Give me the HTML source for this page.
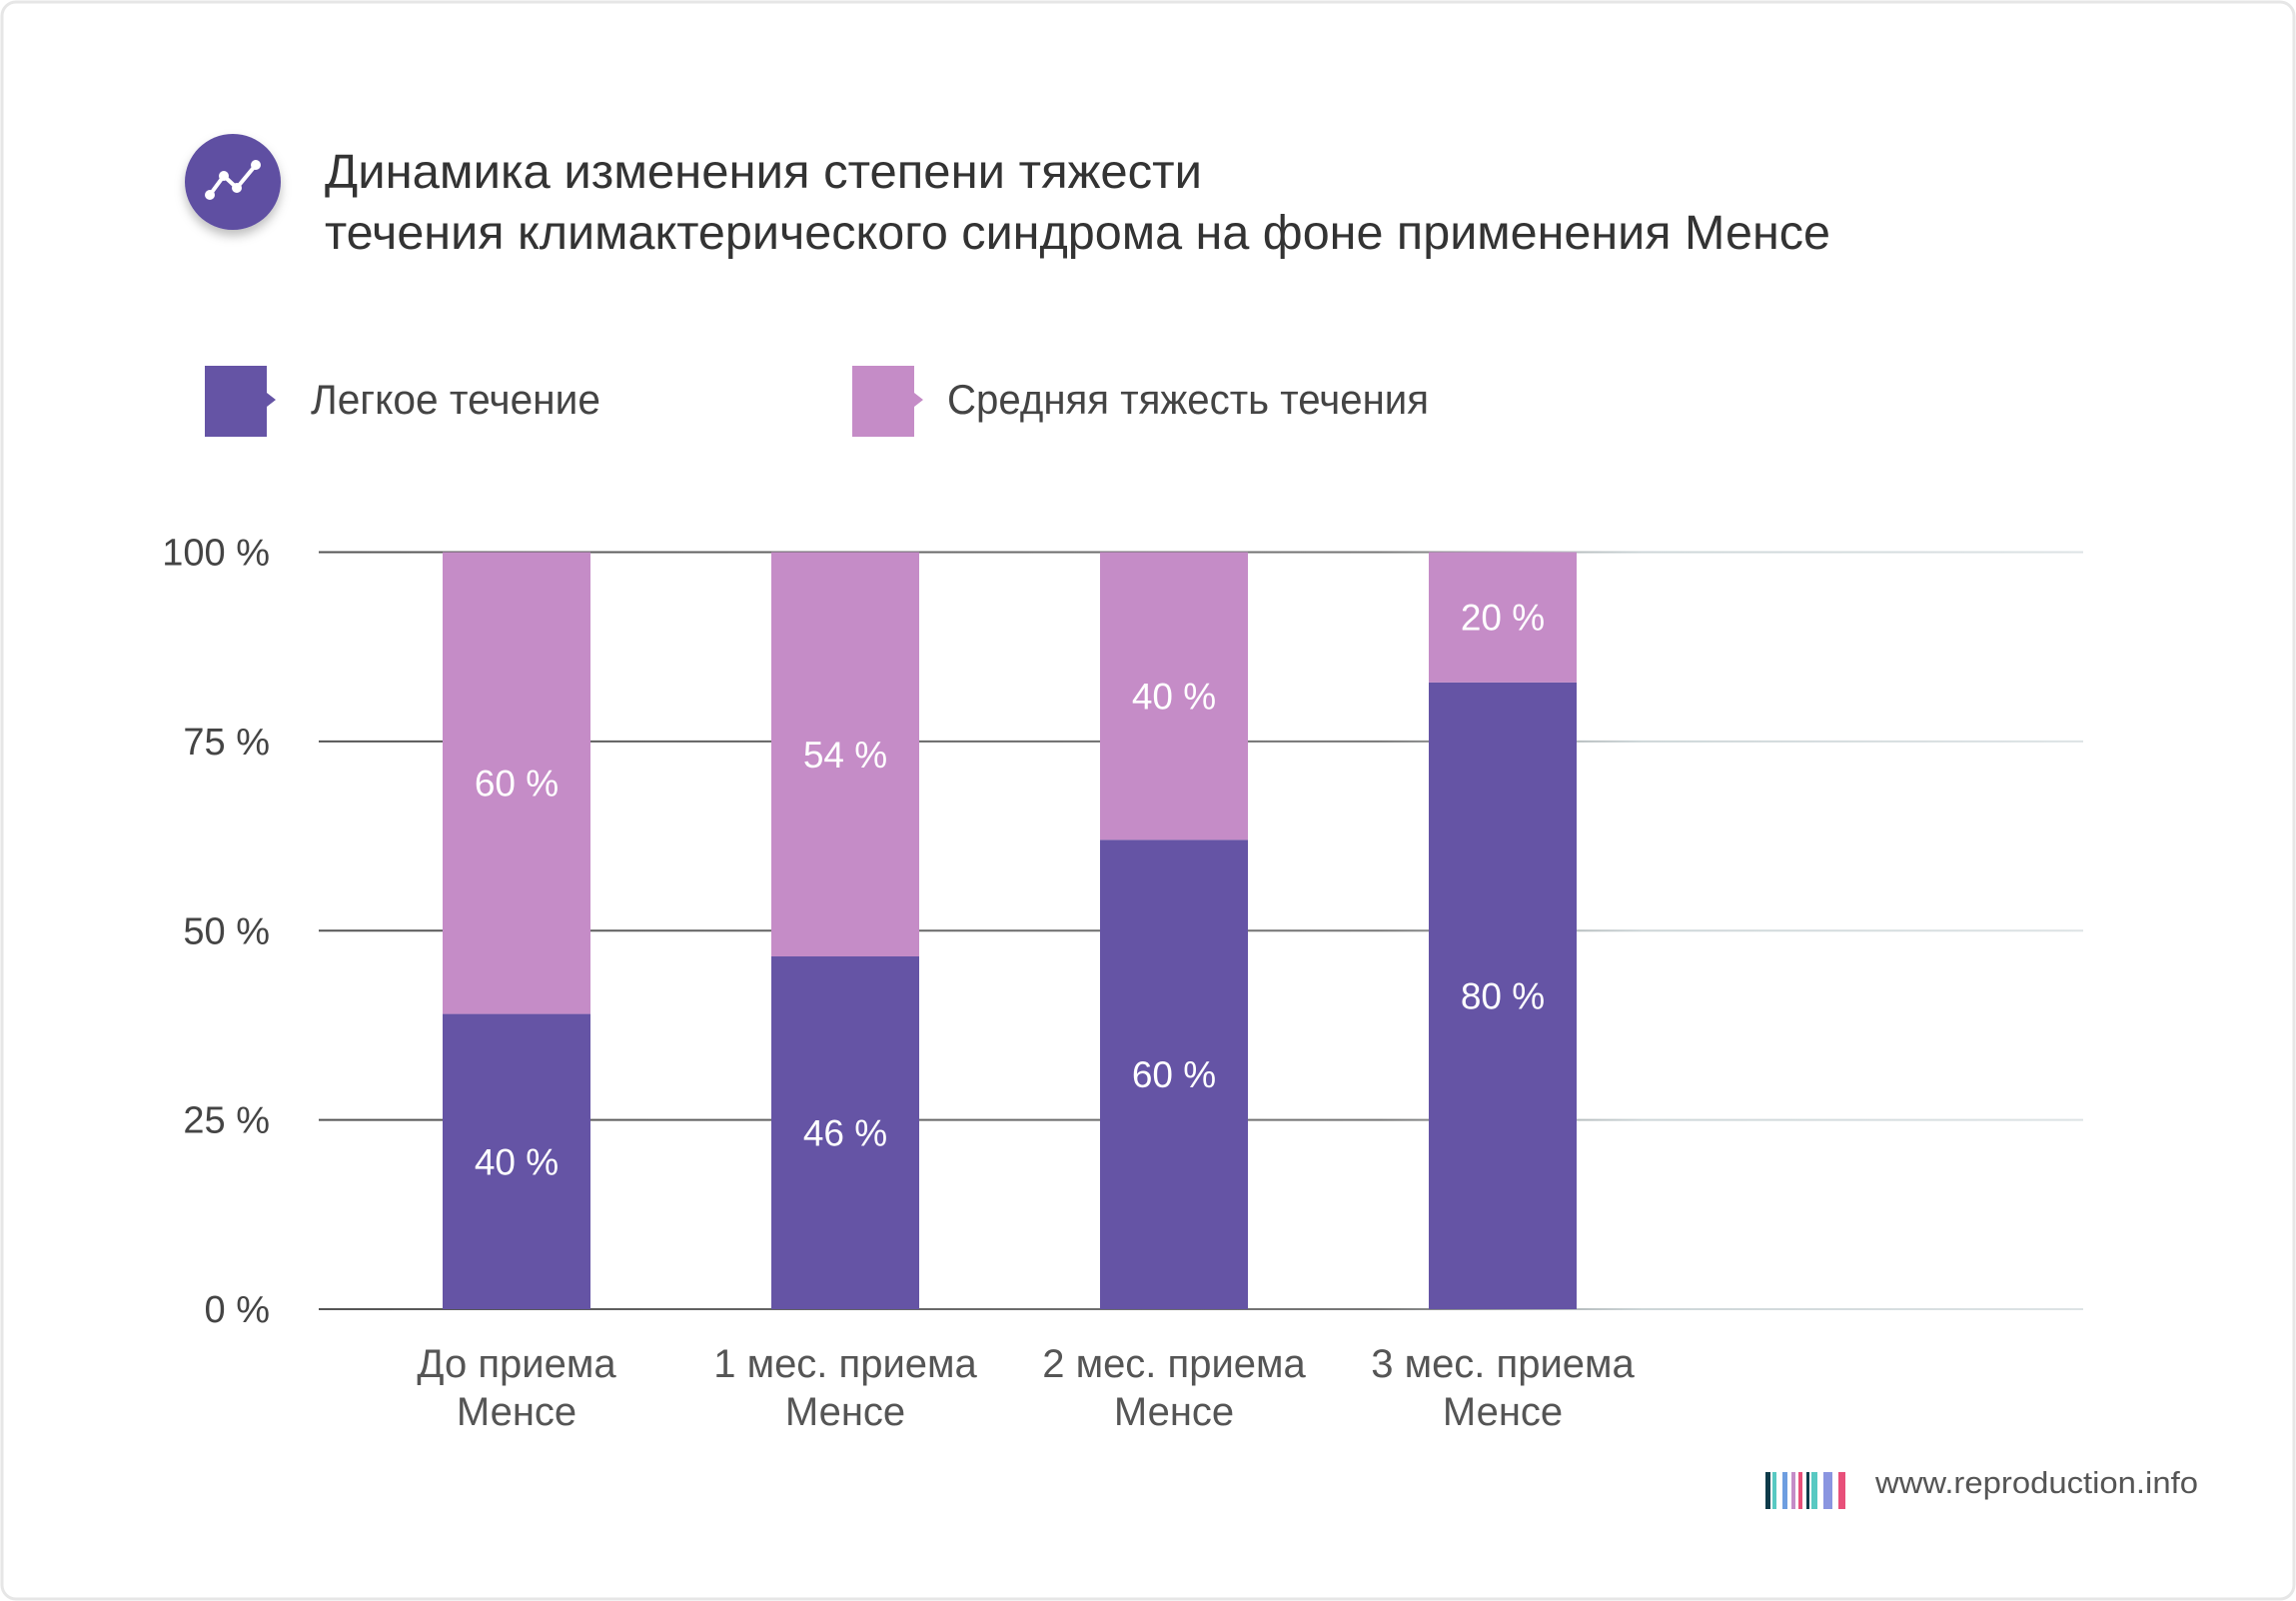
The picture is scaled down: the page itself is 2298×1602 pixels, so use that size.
<!DOCTYPE html>
<html><head><meta charset="utf-8"><style>
html,body{margin:0;padding:0;background:#fff;}
svg{display:block;font-family:"Liberation Sans",sans-serif;}
</style></head><body>
<svg width="2298" height="1602" viewBox="0 0 2298 1602">
<defs>
<linearGradient id="gl" x1="319" x2="2085" y1="0" y2="0" gradientUnits="userSpaceOnUse">
<stop offset="0" stop-color="#555"/><stop offset="0.6" stop-color="#777"/><stop offset="0.75" stop-color="#cdd6d8"/><stop offset="1" stop-color="#dde3e5"/></linearGradient>
<filter id="sh" x="-50%" y="-50%" width="200%" height="200%"><feDropShadow dx="0" dy="6" stdDeviation="5" flood-color="#000" flood-opacity="0.25"/></filter>
</defs>
<rect x="2" y="2" width="2294" height="1598" rx="14" fill="#fff" stroke="#e6e6e6" stroke-width="3"/>
<g>
<circle cx="233" cy="182" r="48" fill="#5e4fa2" filter="url(#sh)"/>
<polyline points="210,195 224,176 237,188 256,165" fill="none" stroke="#fff" stroke-width="4"/>
<circle cx="210" cy="195" r="5" fill="#fff"/><circle cx="224" cy="176" r="5" fill="#fff"/><circle cx="237" cy="188" r="5" fill="#fff"/><circle cx="256" cy="165" r="5" fill="#fff"/>
</g>
<text x="325" y="188" font-size="48" fill="#333" textLength="878" lengthAdjust="spacingAndGlyphs">Динамика изменения степени тяжести</text>
<text x="325" y="249" font-size="48" fill="#333" textLength="1507" lengthAdjust="spacingAndGlyphs">течения климактерического синдрома на фоне применения Менсе</text>
<g>
<rect x="205" y="366" width="62" height="71" fill="#6554a5"/><polygon points="267,393 276,400 267,407" fill="#6554a5"/>
<text x="311" y="414" font-size="42" fill="#444" textLength="290" lengthAdjust="spacingAndGlyphs">Легкое течение</text></g>
<g>
<rect x="853" y="366" width="62" height="71" fill="#c58cc7"/><polygon points="915,393 924,400 915,407" fill="#c58cc7"/>
<text x="948" y="414" font-size="42" fill="#444" textLength="482" lengthAdjust="spacingAndGlyphs">Средняя тяжесть течения</text></g>
<g id="grid"></g>
<g id="yt"></g>
<g id="bars"></g>
<g id="xl"></g>
<g>
<rect x="1767" y="1473" width="5" height="37" fill="#0e3b4a"/><rect x="1774" y="1473" width="4" height="37" fill="#58c9c2"/>
<rect x="1784" y="1473" width="5" height="37" fill="#6e9ee0"/><rect x="1793" y="1473" width="4" height="37" fill="#c58cc7"/><rect x="1800" y="1473" width="4" height="37" fill="#e8507a"/>
<rect x="1808" y="1473" width="3" height="37" fill="#0e3b4a"/><rect x="1813" y="1473" width="6" height="37" fill="#58c9c2"/>
<rect x="1825" y="1473" width="9" height="37" fill="#8a95e0"/><rect x="1840" y="1473" width="7" height="37" fill="#e8507a"/>
<text x="1877" y="1494" font-size="31" fill="#555" textLength="323" lengthAdjust="spacingAndGlyphs">www.reproduction.info</text></g>
</svg>
<script>
const categories=[["До приема","Менсе"],["1 мес. приема","Менсе"],["2 мес. приема","Менсе"],["3 мес. приема","Менсе"]];
const mildValues=[39,46.6,62,82.8];
const moderateValues=[61,53.4,38,17.2];
const mildLabels=["40 %","46 %","60 %","80 %"];
const moderateLabels=["60 %","54 %","40 %","20 %"];
const yTicks=[0,25,50,75,100];
const yTickLabels=["0 %","25 %","50 %","75 %","100 %"];
const NS="http://www.w3.org/2000/svg";
const y0=1310,y1=552.5,xL=319,xR=2085,bx0=443,bstep=329,bw=148;
const y=v=>y0-(y0-y1)*v/100;
const xc=i=>bx0+bstep*i+bw/2;
function mk(t,a,p,txt){const e=document.createElementNS(NS,t);for(const k in a)e.setAttribute(k,a[k]);if(txt!=null)e.textContent=txt;p.appendChild(e);return e;}
const G=document.getElementById('grid'),YT=document.getElementById('yt'),B=document.getElementById('bars'),XL=document.getElementById('xl');
yTicks.forEach((t,i)=>{
 const l=mk('line',{x1:xL,x2:xR,y1:y(t),y2:y(t),stroke:'url(#gl)','stroke-width':2},G);
 
 
 const tx=mk('text',{x:270,y:y(t)+13,'font-size':38,fill:'#444','text-anchor':'end'},YT,yTickLabels[i]);
 
 
});
categories.forEach((c,i)=>{
 const x=bx0+bstep*i,m=mildValues[i],d=moderateValues[i];
 const r1=mk('rect',{x:x,y:y(m),width:bw,height:y0-y(m),fill:'#6554a5'},B);
 
 
 const r2=mk('rect',{x:x,y:y(m+d),width:bw,height:y(m)-y(m+d),fill:'#c58cc7'},B);
 
 
 const t1=mk('text',{x:xc(i),y:(y0+y(m))/2+13,'font-size':37,fill:'#fff','text-anchor':'middle'},B,mildLabels[i]);
 
 
 const t2=mk('text',{x:xc(i),y:(y(m)+y(m+d))/2+13,'font-size':37,fill:'#fff','text-anchor':'middle'},B,moderateLabels[i]);
 
 
 c.forEach((s,j)=>{
  const t=mk('text',{x:xc(i),y:1378+j*48,'font-size':40,fill:'#555','text-anchor':'middle'},XL,s);
  
  
 });
});
</script>
</body></html>
